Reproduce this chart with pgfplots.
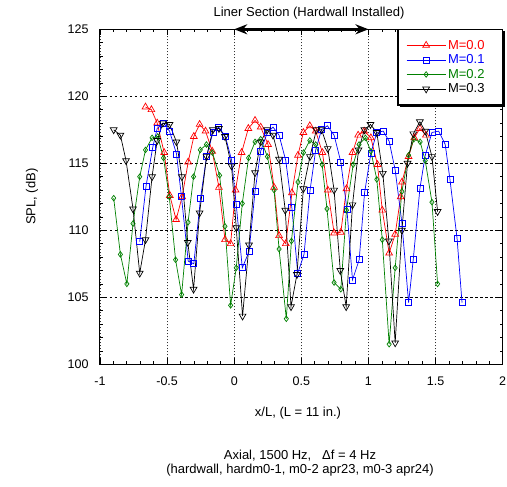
\documentclass[border=0pt]{standalone}
\usepackage{fontspec}
\setmainfont{Liberation Sans}
\usepackage{pgfplots}
\pgfplotsset{compat=1.18}
\usetikzlibrary{arrows.meta}
\definecolor{mgreen}{RGB}{0,128,0}
\begin{document}
\begin{tikzpicture}[font=\fontsize{13}{15.6}\selectfont]
\path[use as bounding box] (0,0) rectangle (507pt,487pt);
\begin{axis}[
 at={(100pt,122.7pt)}, anchor=south west,
 width=402.7pt, height=335pt, scale only axis,
 xmin=-1, xmax=2, ymin=100, ymax=125,
 xtick={-1,-0.5,0,0.5,1,1.5,2},
 ytick={100,105,110,115,120,125},
 minor x tick num=4, minor y tick num=4,
 tick align=inside,
 major tick length=6pt, minor tick length=3pt,
 axis line style={line width=1pt},
 tick style={black, line width=0.7pt},
 xmajorgrids, ymajorgrids,
 x grid style={black!80, line width=0.6pt, dash pattern=on 1pt off 2pt},
 y grid style={black, line width=0.6pt, dash pattern=on 2.5pt off 2.5pt},
 /pgf/number format/assume math mode=true,
 tick label style={font=\fontsize{12.5}{15}\selectfont},
 xticklabel style={yshift=-9pt},
 yticklabel style={xshift=-8pt},
 xlabel={x/L, (L = 11 in.)},
 ylabel={SPL, (dB)},
 xlabel style={at={(axis description cs:0.4917,-0.1454)}, anchor=center},
 ylabel style={at={(axis description cs:-0.1689,0.5)}, anchor=center},
 clip=false,
 legend style={name=leg, at={(axis description cs:1,1)}, anchor=north east, draw=none, fill=white,
   inner xsep=8pt, inner ysep=8.5pt, legend cell align=left,
   font=\fontsize{13}{15.6}\selectfont,
   nodes={inner sep=2pt, text depth=0.15em}},
 legend image code/.code={\draw[mark repeat=2,mark phase=2] plot coordinates {(0pt,0pt) (19.5pt,0pt) (39pt,0pt)};},
]
\addplot[red, line width=0.7pt, mark=triangle, mark size=3.9pt] coordinates {
(-0.661,119.2) (-0.617,119.0) (-0.574,118.0) (-0.522,115.8) (-0.480,112.6) (-0.433,110.8) (-0.388,112.5) (-0.343,115.1) (-0.301,117.0) (-0.258,117.9) (-0.214,117.4) (-0.164,115.9) (-0.114,113.2) (-0.069,109.3) (-0.027,109.0) (0.010,113.0) (0.055,115.8) (0.105,117.6) (0.155,118.2) (0.197,117.7) (0.252,116.4) (0.297,113.2) (0.334,109.6) (0.384,109.0) (0.430,112.8) (0.475,115.6) (0.515,117.3) (0.563,117.8) (0.607,117.4) (0.657,115.8) (0.697,113.0) (0.744,109.8) (0.794,109.85) (0.836,113.1) (0.881,115.8) (0.923,117.1) (0.968,117.4) (1.018,116.9) (1.067,114.9) (1.103,111.5) (1.154,108.3) (1.199,109.7) (1.240,112.5) (1.250,113.6) (1.299,115.5) (1.341,116.9) (1.383,117.6) (1.428,117.1)
};
\addlegendentry{\textcolor{red}{M=0.0}\hspace*{8pt}}
\addplot[blue, line width=0.7pt, mark=square, mark size=3.0pt] coordinates {
(-0.704,109.15) (-0.657,113.3) (-0.607,116.2) (-0.574,117.6) (-0.525,118.0) (-0.482,117.4) (-0.430,115.7) (-0.393,112.5) (-0.343,107.7) (-0.301,107.5) (-0.251,112.4) (-0.206,115.5) (-0.159,117.3) (-0.116,117.7) (-0.066,117.0) (-0.020,115.25) (0.015,111.9) (0.060,107.2) (0.110,108.4) (0.155,112.9) (0.197,115.9) (0.247,117.3) (0.289,117.7) (0.334,117.1) (0.384,115.2) (0.429,111.7) (0.473,106.8) (0.520,108.2) (0.565,113.0) (0.607,116.0) (0.650,117.5) (0.694,117.8) (0.744,117.1) (0.794,115.1) (0.839,111.6) (0.881,106.3) (0.931,107.8) (0.971,112.8) (1.018,115.75) (1.062,117.3) (1.110,117.4) (1.154,116.65) (1.199,114.5) (1.249,110.55) (1.299,104.6) (1.334,107.85) (1.383,113.1) (1.423,115.6) (1.473,117.3) (1.523,117.4) (1.572,116.4) (1.607,113.8) (1.660,109.4) (1.697,104.6)
};
\addlegendentry{\textcolor{blue}{M=0.1}\hspace*{8pt}}
\addplot[mgreen, line width=0.7pt, mark=diamond, mark size=2.8pt] coordinates {
(-0.898,112.4) (-0.848,108.2) (-0.800,106.0) (-0.754,110.5) (-0.704,114.0) (-0.661,116.0) (-0.612,116.9) (-0.570,117.0) (-0.527,115.4) (-0.484,112.5) (-0.437,107.8) (-0.392,105.2) (-0.344,110.6) (-0.303,114.0) (-0.253,116.0) (-0.207,116.4) (-0.163,115.8) (-0.109,114.1) (-0.069,110.3) (-0.027,104.4) (0.015,107.2) (0.060,112.0) (0.107,115.4) (0.155,116.6) (0.197,116.8) (0.247,115.5) (0.297,113.0) (0.334,108.6) (0.388,103.4) (0.426,109.2) (0.475,113.6) (0.516,115.8) (0.563,116.7) (0.607,116.4) (0.655,114.9) (0.691,111.6) (0.744,106.1) (0.794,105.6) (0.836,111.5) (0.886,114.9) (0.930,116.4) (0.977,116.9) (1.018,115.9) (1.062,113.8) (1.103,109.3) (1.154,101.5) (1.199,107.2) (1.249,112.9) (1.299,115.6) (1.338,116.8) (1.385,116.6) (1.423,115.2) (1.473,112.1) (1.515,106.0)
};
\addlegendentry{\textcolor{mgreen}{M=0.2}\hspace*{8pt}}
\addplot[black, line width=0.7pt, mark=triangle, mark size=3.9pt, mark options={rotate=180}] coordinates {
(-0.898,117.5) (-0.848,117.1) (-0.806,115.2) (-0.754,111.6) (-0.704,106.8) (-0.661,109.3) (-0.612,114.0) (-0.574,116.7) (-0.532,118.0) (-0.482,117.9) (-0.430,116.6) (-0.390,114.0) (-0.346,109.1) (-0.303,105.6) (-0.258,111.3) (-0.206,115.5) (-0.159,117.5) (-0.114,117.6) (-0.069,117.0) (-0.020,114.8) (0.015,110.2) (0.062,103.6) (0.110,108.9) (0.155,114.3) (0.197,116.6) (0.245,117.5) (0.289,117.1) (0.334,115.3) (0.380,111.5) (0.423,104.3) (0.467,106.7) (0.515,113.1) (0.564,115.5) (0.612,117.5) (0.651,117.5) (0.697,116.1) (0.744,113.0) (0.790,107.0) (0.834,104.3) (0.881,111.9) (0.926,116.0) (0.970,117.5) (1.015,117.9) (1.062,117.3) (1.107,114.25) (1.152,109.2) (1.199,101.6) (1.249,110.0) (1.291,115.0) (1.334,117.2) (1.383,118.1) (1.423,117.4) (1.473,115.5) (1.515,111.4)
};
\addlegendentry{\textcolor{black}{M=0.3}\hspace*{8pt}}
\draw[black, line width=2.5pt, {Stealth[length=13pt,width=10pt]}-{Stealth[length=13pt,width=10pt]}] (axis cs:0,125) -- (axis cs:1,125);
\node[yshift=16pt] at (axis cs:0.557,125) {Liner Section (Hardwall Installed)};
\end{axis}
\draw[line width=1.5pt] (leg.south west) rectangle (leg.north east);
\draw[line width=1.6pt] ([xshift=2pt,yshift=-1.5pt]leg.south west) -- ([xshift=1.5pt,yshift=-1.5pt]leg.south east) -- ([xshift=1.5pt,yshift=-2pt]leg.north east);
\node[align=center, font=\fontsize{13}{14.5}\selectfont] at (300pt,24pt) {Axial, 1500 Hz, \ \ Δf = 4 Hz\\(hardwall, hardm0-1, m0-2 apr23, m0-3 apr24)};
\end{tikzpicture}
\end{document}
